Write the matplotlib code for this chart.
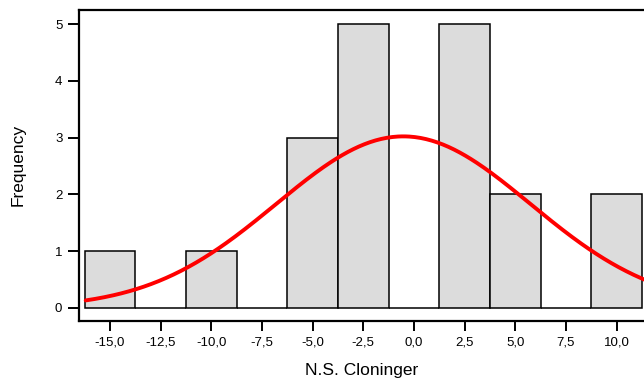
import numpy as np
import matplotlib
matplotlib.use("Agg")
import matplotlib.pyplot as plt
from matplotlib.ticker import FuncFormatter

# Histogram data (bin centers and counts)
bin_centers = [-15.0, -12.5, -10.0, -7.5, -5.0, -2.5, 0.0, 2.5, 5.0, 7.5, 10.0]
counts = [1, 0, 1, 0, 3, 5, 0, 5, 2, 0, 2]
bin_width = 2.5
x_ticks = [-15.0, -12.5, -10.0, -7.5, -5.0, -2.5, 0.0, 2.5, 5.0, 7.5, 10.0]
y_ticks = [0, 1, 2, 3, 4, 5]

plt.rcParams['font.family'] = ['Liberation Sans', 'DejaVu Sans']

fig = plt.figure(figsize=(6.44, 3.85), dpi=100)
W, H = 644, 385
ax = fig.add_axes([79 / W, 1 - 321 / H, (646 - 79) / W, (321 - 10) / H])

ax.bar(bin_centers, counts, width=bin_width, color='#dcdcdc',
       edgecolor='black', linewidth=1.1, zorder=2)

# Normal fit from histogram data
c = np.array(bin_centers)
n = np.array(counts)
N = n.sum()
mu = (c * n).sum() / N
sd = np.sqrt((n * (c - mu) ** 2).sum() / (N - 1))
xs = np.linspace(-16.2, 11.4, 300)
ys = N * bin_width / (sd * np.sqrt(2 * np.pi)) * np.exp(-0.5 * ((xs - mu) / sd) ** 2)
ax.plot(xs, ys, color='#ff0000', linewidth=2.8, zorder=3, solid_capstyle='round')

ax.set_xlim(-16.53, 11.45)
ax.set_ylim(-0.23, 5.25)
ax.set_xticks(x_ticks)
ax.set_yticks(y_ticks)
ax.xaxis.set_major_formatter(FuncFormatter(lambda v, p: f"{v:.1f}".replace('.', ',')))
ax.tick_params(axis='both', direction='out', length=7, width=1.4, labelsize=9.5, pad=4)
ax.tick_params(axis='y', length=8)

for s in ['left', 'top', 'bottom']:
    ax.spines[s].set_linewidth(1.6)
ax.spines['right'].set_visible(False)

fig.text(362 / W, 1 - 371 / H, 'N.S. Cloninger', ha='center', va='center', fontsize=12.5)
fig.text(18 / W, 1 - 165 / H, 'Frequency', ha='center', va='center', fontsize=12.5, rotation=90)

fig.savefig('out.png', dpi=100)
